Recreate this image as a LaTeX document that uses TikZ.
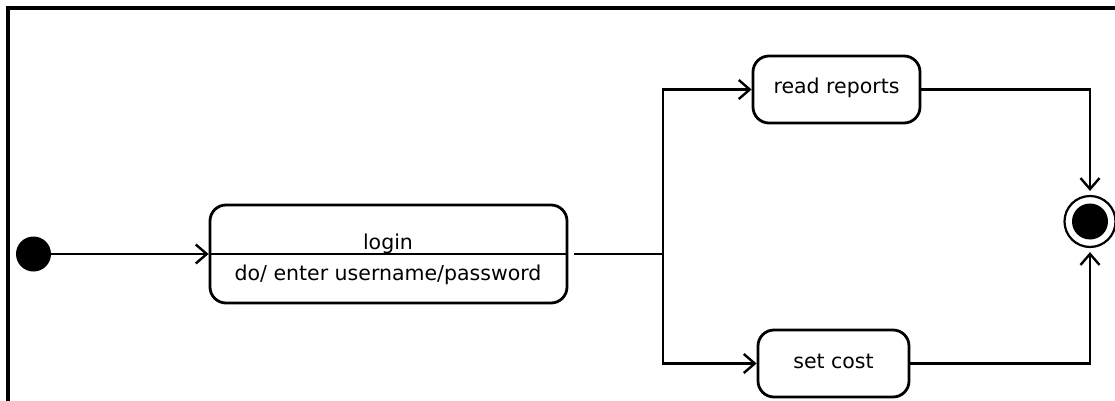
\documentclass[tikz,border=0pt]{standalone}
\usepackage{fontspec}
\setmainfont{DejaVu Sans}
\usetikzlibrary{arrows.meta}
\tikzset{
  conn/.style={line width=2.6pt},
  arr/.style={conn, -{Straight Barb[length=11pt,width=19pt,line width=2.4pt]}},
  statebox/.style={draw, line width=2.8pt, rounded corners=16pt, inner sep=0pt,
    font=\fontsize{20.5}{24}\selectfont, text height=1em, text depth=0.1em},
  txt/.style={inner sep=0pt, anchor=base, font=\fontsize{20.5}{24}\selectfont},
}
\begin{document}
\begin{tikzpicture}[x=1pt,y=-1pt]
\useasboundingbox (0,0) rectangle (1115,401);
% frame
\draw[line width=4pt] (8,420) -- (8,8.5) -- (1130,8.5);
% initial state
\node[circle, fill=black, inner sep=0pt, minimum size=35pt] (init) at (33.5,254) {};
% login state
\node[statebox, minimum width=357pt, minimum height=98pt] (login) at (388.5,254) {};
\draw[line width=2.6pt] (login.west) -- (login.east);
\node[txt] (logint) at (388,249) {login};
\node[txt] (logind) at (388,280) {do/ enter username/password};
% read reports / set cost
\node[statebox, minimum width=167pt, minimum height=67pt] (read) at (836.5,89.5) {read reports};
\node[statebox, minimum width=151pt, minimum height=67pt] (cost) at (833.5,363.5) {set cost};
% final state
\node[circle, draw, line width=2.2pt, minimum size=51pt, inner sep=0pt] (final) at (1090,221.5) {};
\node[circle, fill=black, minimum size=36pt, inner sep=0pt] (finalin) at (final.center) {};
% connectors
\coordinate (j) at (663,254);
\draw[arr] (init) -- (login.west);
\draw[conn, shorten <=6pt] (login.east) -- (j);
\draw[arr] (j) |- (read.west);
\draw[arr] (j) |- (cost.west);
\draw[arr, shorten >=4pt] (read.east) -| (final.north);
\draw[arr, shorten >=4pt] (cost.east) -| (final.south);
\end{tikzpicture}
\end{document}
